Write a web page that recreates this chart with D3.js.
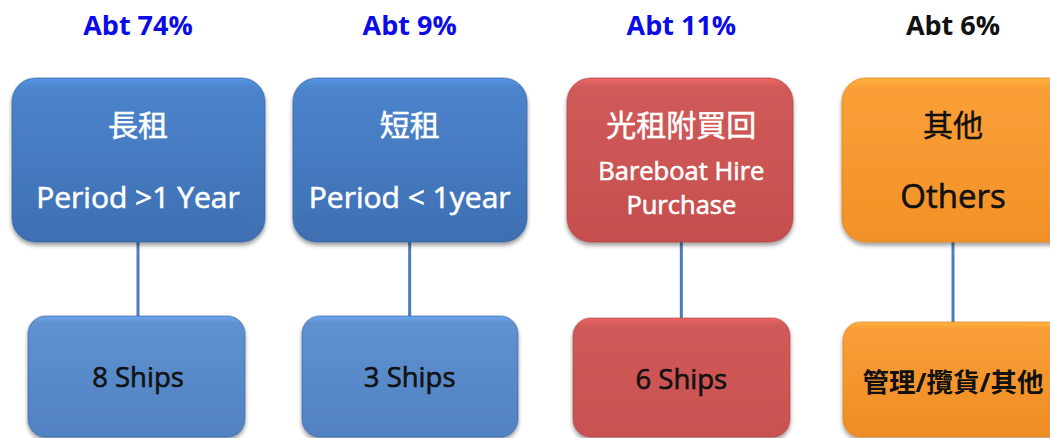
<!DOCTYPE html>
<html><head><meta charset="utf-8">
<script src="https://cdn.jsdelivr.net/npm/d3@7"></script>
<style>
html,body{margin:0;padding:0;background:#fff;overflow:hidden}
svg{display:block}
text{font-family:"Open Sans","Noto Sans CJK TC",sans-serif}
</style></head><body>
<svg id="c" width="1050" height="438"></svg>
<script>
// ---- data ----
const categories = ["long", "short", "bareboat", "others"];
const shares = ["Abt 74%", "Abt 9%", "Abt 11%", "Abt 6%"];
const zhLabels = ["長租", "短租", "光租附買回", "其他"];
const enLabels = [["Period >1 Year"], ["Period < 1year"], ["Bareboat Hire", "Purchase"], ["Others"]];
const shipLabels = ["8 Ships", "3 Ships", "6 Ships", "管理/攬貨/其他"];

// ---- styling / layout ----
const headColor = ["#0b0be8", "#0b0be8", "#0b0be8", "#111"];
const topFill = [["#4c84cc", "#3e6fb2"], ["#4c84cc", "#3e6fb2"], ["#d05a59", "#c64e4d"], ["#fa9f37", "#f29128"]];
const botFill = [["#5f91d0", "#5182c3"], ["#5f91d0", "#5182c3"], ["#d05a59", "#c95150"], ["#fa9f37", "#ee8c24"]];
const edge = ["#2f5c98", "#2f5c98", "#a84040", "#d67a1a"];
const topText = ["#fff", "#fff", "#fff", "#111"];
const topBox = [[12, 265], [293, 527], [567, 793], [842, 1074]];
const botBox = [[28, 245], [302, 518], [573, 790], [843, 1074]];
const botTop = [316, 316, 318, 322];

const svg = d3.select("#c");
const defs = svg.append("defs");
const f = defs.append("filter").attr("id", "sh").attr("x", "-10%").attr("y", "-10%").attr("width", "120%").attr("height", "130%");
f.append("feGaussianBlur").attr("in", "SourceAlpha").attr("stdDeviation", 2);
f.append("feOffset").attr("dx", 0).attr("dy", 2.5).attr("result", "b");
f.append("feComponentTransfer").append("feFuncA").attr("type", "linear").attr("slope", 0.4);
const m = f.append("feMerge"); m.append("feMergeNode"); m.append("feMergeNode").attr("in", "SourceGraphic");

function grad(id, c) {
  const g = defs.append("linearGradient").attr("id", id).attr("x1", 0).attr("y1", 0).attr("x2", 0).attr("y2", 1);
  g.append("stop").attr("offset", "0%").attr("stop-color", d3.color(c[0]).brighter(0.35));
  g.append("stop").attr("offset", "6%").attr("stop-color", c[0]);
  g.append("stop").attr("offset", "100%").attr("stop-color", c[1]);
}
categories.forEach((c, i) => { grad("gt" + i, topFill[i]); grad("gb" + i, botFill[i]); });

const x = d3.scalePoint().domain(categories).range([138, 953]);

const col = svg.selectAll("g.col").data(categories).join("g").attr("class", "col");

// connectors
col.append("line")
  .attr("x1", d => x(d)).attr("x2", d => x(d))
  .attr("y1", 240).attr("y2", (d, i) => botTop[i] + 2)
  .attr("stroke", "#4a7ebb").attr("stroke-width", 3);

// headers
col.append("text").attr("x", d => x(d)).attr("y", 35).attr("text-anchor", "middle")
  .attr("font-size", 27).attr("font-weight", 700)
  .attr("fill", (d, i) => headColor[i]).text((d, i) => shares[i]);

// top boxes
col.append("rect").attr("x", (d, i) => topBox[i][0]).attr("y", 78)
  .attr("width", (d, i) => topBox[i][1] - topBox[i][0]).attr("height", 164)
  .attr("rx", 24).attr("fill", (d, i) => `url(#gt${i})`)
  .attr("stroke", (d, i) => edge[i]).attr("stroke-opacity", 0.45).attr("stroke-width", 1.5)
  .attr("filter", "url(#sh)");

col.append("text").attr("x", d => x(d)).attr("y", 136).attr("text-anchor", "middle")
  .attr("font-size", 30).attr("font-weight", 400).attr("font-family", "'Noto Sans CJK TC',sans-serif")
  .attr("fill", (d, i) => topText[i])
  .attr("stroke", (d, i) => topText[i]).attr("stroke-width", 0.5)
  .text((d, i) => zhLabels[i]);

col.each(function (d, i) {
  const lines = enLabels[i];
  const g = d3.select(this);
  const ys = lines.length === 1 ? [208] : [180, 214];
  const fs = lines.length === 1 ? (i === 3 ? 33 : 30) : 25.5;
  lines.forEach((t, k) => {
    g.append("text").attr("x", x(d)).attr("y", ys[k]).attr("text-anchor", "middle")
      .attr("font-size", fs).attr("font-weight", 400)
      .attr("fill", topText[i]).attr("stroke", topText[i]).attr("stroke-width", 0.6)
      .text(t);
  });
});

// bottom boxes
col.append("rect").attr("x", (d, i) => botBox[i][0]).attr("y", (d, i) => botTop[i])
  .attr("width", (d, i) => botBox[i][1] - botBox[i][0]).attr("height", (d, i) => 437 - botTop[i])
  .attr("rx", 18).attr("fill", (d, i) => `url(#gb${i})`)
  .attr("stroke", (d, i) => edge[i]).attr("stroke-opacity", 0.4).attr("stroke-width", 1.5)
  .attr("filter", "url(#sh)");

col.append("text").attr("x", d => x(d)).attr("y", (d, i) => i === 3 ? 392 : (i === 2 ? 389 : 387))
  .attr("text-anchor", "middle")
  .attr("font-size", (d, i) => i === 3 ? 26.5 : 27.5).attr("font-weight", (d, i) => i === 3 ? 700 : 400)
  .attr("font-family", (d, i) => i === 3 ? "'Noto Sans CJK TC',sans-serif" : null)
  .attr("fill", "#111").attr("stroke", "#111").attr("stroke-width", (d, i) => i === 3 ? 0 : 0.6)
  .text((d, i) => shipLabels[i]);
</script></body></html>
